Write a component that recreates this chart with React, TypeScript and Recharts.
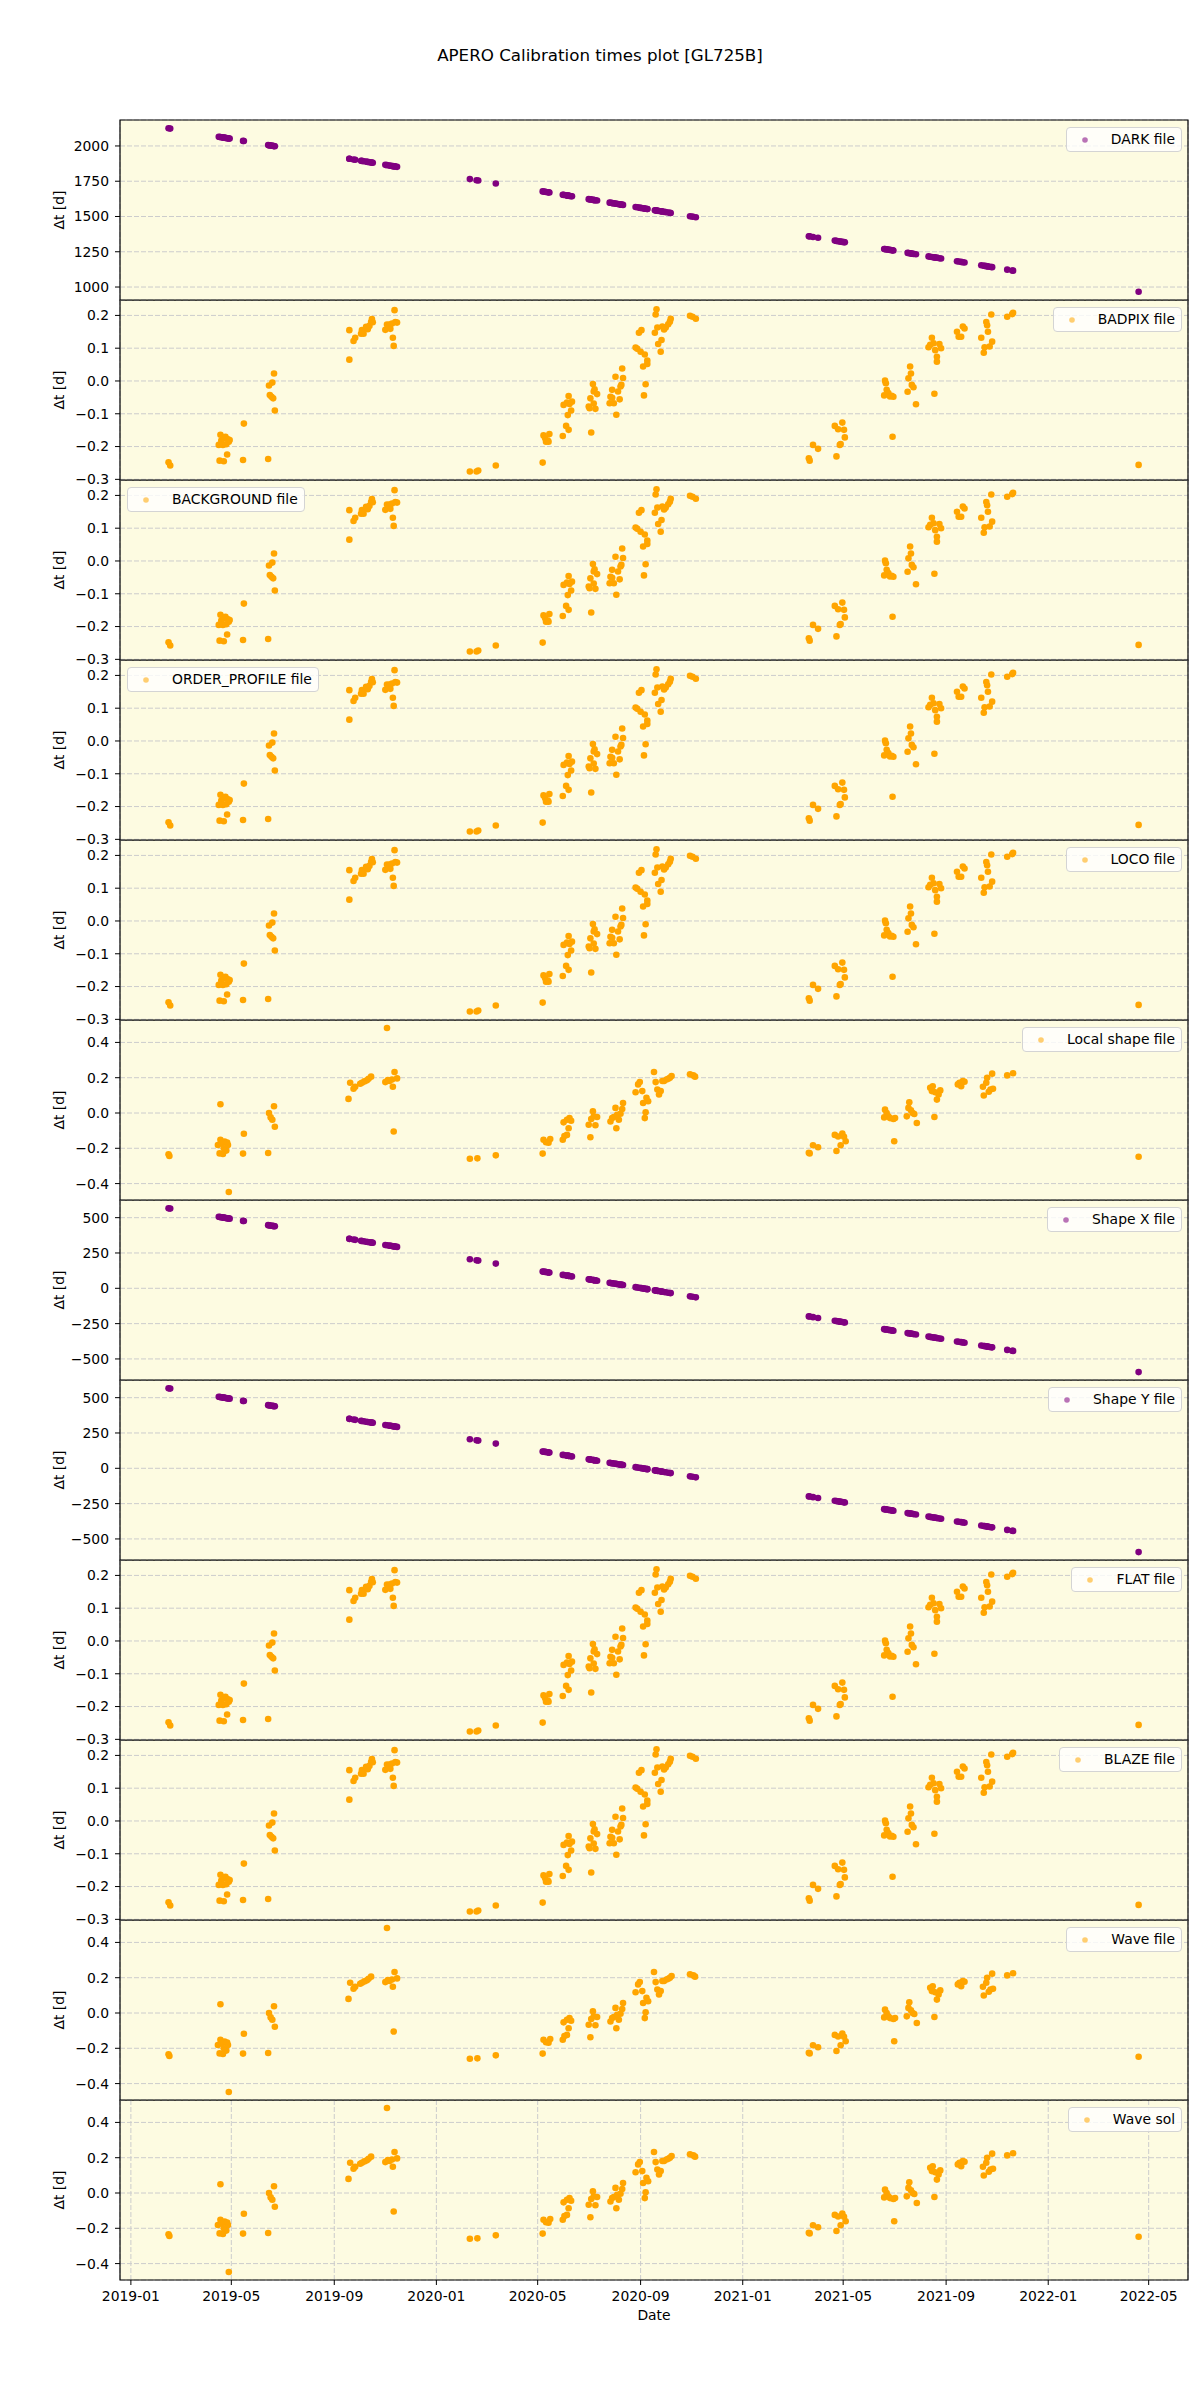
import { ScatterChart, Scatter, XAxis, YAxis, CartesianGrid, ReferenceArea, Legend } from "recharts"

const FONT = "DejaVu Sans"
const PURPLE = "#800080"
const ORANGE = "#ffa500"

// x ticks: month starts; x values are days since 2019-01-01
const dateTicks = ["2019-01", "2019-05", "2019-09", "2020-01", "2020-05", "2020-09", "2021-01", "2021-05", "2021-09", "2022-01", "2022-05"]
const xDomain = [-13, 1263]

const darkTicks = [1000, 1250, 1500, 1750, 2000]
const nightlyTicks = [-0.3, -0.2, -0.1, 0.0, 0.1, 0.2]
const waveTicks = [-0.4, -0.2, 0.0, 0.2, 0.4]
const shapeTicks = [-500, -250, 0, 250, 500]

// observation days for the nightly calibrations (DARK, BADPIX, ... , Shape)
const nightlyDays = [
  45, 47,
  105, 106, 107, 108, 110, 111, 111, 113, 114, 115, 116, 117, 118,
  134, 135,
  164, 165, 166, 168, 169, 170, 171, 172,
  261, 261, 266, 268, 275, 276, 278, 281, 283, 285, 287, 288, 289,
  304, 306, 309, 310, 312, 313, 314, 315, 316, 318,
  405, 413, 415, 436,
  492, 493, 495, 496, 498, 499, 500,
  516, 517, 520, 521, 522, 523, 523, 524, 526, 527,
  547, 548, 549, 550, 552, 553, 553, 554, 555, 557,
  572, 573, 575, 575, 577, 579, 580, 582, 584, 585, 586, 587, 588,
  603, 605, 607, 609, 610, 612, 613, 614, 615, 617, 617, 626, 627, 628, 629, 630, 633, 634, 635, 637, 639, 642, 644, 645,
  668, 671, 675,
  810, 811, 815, 821,
  841, 843, 845, 847, 848, 850, 852, 853,
  900, 901, 902, 903, 905, 907, 909, 910, 911,
  928, 929, 931, 932, 933, 935, 938,
  953, 955, 957, 959, 960, 961, 963, 963, 966, 968,
  987, 989, 992, 994, 996,
  1016, 1019, 1020, 1022, 1023, 1024, 1026, 1028, 1029,
  1047, 1053, 1054,
  1204,
]

const nightlyDt = [
  -0.248, -0.258,
  -0.195, -0.243, -0.164, -0.182, -0.195, -0.245, -0.175, -0.17, -0.193, -0.224, -0.178, -0.185, -0.18,
  -0.241, -0.13,
  -0.238, -0.014, -0.043, -0.048, -0.005, -0.053, 0.023, -0.09,
  0.065, 0.155, 0.122, 0.132, 0.144, 0.155, 0.144, 0.165, 0.158, 0.168, 0.18, 0.189, 0.179,
  0.156, 0.172, 0.172, 0.159, 0.175, 0.132, 0.107, 0.216, 0.18, 0.178,
  -0.276, -0.276, -0.273, -0.258,
  -0.249, -0.166, -0.175, -0.185, -0.182, -0.185, -0.162,
  -0.168, -0.073, -0.137, -0.066, -0.104, -0.149, -0.046, -0.07, -0.09, -0.063,
  -0.078, -0.083, -0.053, -0.157, -0.009, -0.032, -0.069, -0.025, -0.085, -0.04,
  -0.068, -0.048, -0.051, -0.027, -0.068, 0.013, -0.103, -0.032, -0.056, -0.017, -0.012, 0.038, 0.009,
  0.102, 0.098, 0.147, 0.089, 0.155, 0.044, -0.044, 0.081, -0.01, 0.062, 0.052, 0.147, 0.203, 0.219, 0.163, 0.113, 0.089, 0.125, 0.166, 0.157, 0.163, 0.173, 0.181, 0.19,
  0.199, 0.196, 0.19,
  -0.236, -0.243, -0.195, -0.207,
  -0.137, -0.23, -0.147, -0.195, -0.192, -0.127, -0.149, -0.172,
  -0.044, 0.001, -0.007, -0.027, -0.037, -0.047, -0.045, -0.17, -0.048,
  -0.033, 0.008, 0.044, 0.023, -0.012, -0.019, -0.071,
  0.103, 0.11, 0.132, 0.115, -0.039, 0.094, 0.074, 0.059, 0.113, 0.1,
  0.15, 0.135, 0.135, 0.166, 0.16,
  0.132, 0.086, 0.103, 0.18, 0.17, 0.15, 0.105, 0.203, 0.12,
  0.196, 0.204, 0.208,
  -0.256,
]

const darkDt = [
  2125, 2123,
  2065, 2064, 2063, 2062, 2060, 2059, 2059, 2057, 2056, 2055, 2054, 2053, 2052,
  2036, 2035,
  2006, 2005, 2004, 2002, 2001, 2000, 1999, 1998,
  1909, 1909, 1904, 1902, 1895, 1894, 1892, 1889, 1887, 1885, 1883, 1882, 1881,
  1866, 1864, 1861, 1860, 1858, 1857, 1856, 1855, 1854, 1852,
  1765, 1757, 1755, 1734,
  1678, 1677, 1675, 1674, 1672, 1671, 1670,
  1654, 1653, 1650, 1649, 1648, 1647, 1647, 1646, 1644, 1643,
  1623, 1622, 1621, 1620, 1618, 1617, 1617, 1616, 1615, 1613,
  1598, 1597, 1595, 1595, 1593, 1591, 1590, 1588, 1586, 1585, 1584, 1583, 1582,
  1567, 1565, 1563, 1561, 1560, 1558, 1557, 1556, 1555, 1553, 1553, 1544, 1543, 1542, 1541, 1540, 1537, 1536, 1535, 1533, 1531, 1528, 1526, 1525,
  1502, 1499, 1495,
  1360, 1359, 1355, 1349,
  1329, 1327, 1325, 1323, 1322, 1320, 1318, 1317,
  1270, 1269, 1268, 1267, 1265, 1263, 1261, 1260, 1259,
  1242, 1241, 1239, 1238, 1237, 1235, 1232,
  1217, 1215, 1213, 1211, 1210, 1209, 1207, 1207, 1204, 1202,
  1183, 1181, 1178, 1176, 1174,
  1154, 1151, 1150, 1148, 1147, 1146, 1144, 1142, 1141,
  1123, 1117, 1116,
  966,
]

const shapeDt = [
  566, 564,
  506, 505, 504, 503, 501, 500, 500, 498, 497, 496, 495, 494, 493,
  477, 476,
  447, 446, 445, 443, 442, 441, 440, 439,
  350, 350, 345, 343, 336, 335, 333, 330, 328, 326, 324, 323, 322,
  307, 305, 302, 301, 299, 298, 297, 296, 295, 293,
  206, 198, 196, 175,
  119, 118, 116, 115, 113, 112, 111,
  95, 94, 91, 90, 89, 88, 88, 87, 85, 84,
  64, 63, 62, 61, 59, 58, 58, 57, 56, 54,
  39, 38, 36, 36, 34, 32, 31, 29, 27, 26, 25, 24, 23,
  8, 6, 4, 2, 1, -1, -2, -3, -4, -6, -6, -15, -16, -17, -18, -19, -22, -23, -24, -26, -28, -31, -33, -34,
  -57, -60, -64,
  -199, -200, -204, -210,
  -230, -232, -234, -236, -237, -239, -241, -242,
  -289, -290, -291, -292, -294, -296, -298, -299, -300,
  -317, -318, -320, -321, -322, -324, -327,
  -342, -344, -346, -348, -349, -350, -352, -352, -355, -357,
  -376, -378, -381, -383, -385,
  -405, -408, -409, -411, -412, -413, -415, -417, -418,
  -436, -442, -443,
  -593,
]

// wavelength-type calibrations (Local shape, Wave file, Wave sol)
const waveDays = [
  45, 46,
  104, 106, 107, 107, 109, 110, 111, 112, 114, 115, 116, 117,
  134, 135,
  164, 165, 167, 169, 171, 172,
  260, 262, 266, 268, 274, 276, 279, 282, 284, 287,
  304, 306, 307, 309, 312, 313, 314, 315, 318,
  405, 414, 436,
  492, 493, 496, 499, 501,
  516, 517, 518, 521, 521, 523, 524, 526,
  547, 549, 550, 552, 553, 555, 557,
  573, 575, 577, 579, 580, 581, 583, 585, 587, 588,
  603, 606, 608, 611, 612, 614, 615, 616, 618, 625, 627, 629, 631, 633, 635, 637, 640, 642, 644, 646,
  668, 672, 674,
  810, 811, 815, 821,
  841, 843, 845, 848, 850, 852, 854,
  900, 901, 903, 905, 907, 911, 912, 913,
  927, 929, 930, 932, 934, 936, 939,
  955, 957, 958, 960, 961, 963, 965, 967,
  988, 990, 992, 994, 996,
  1018, 1019, 1022, 1023, 1025, 1027, 1029, 1030,
  1047, 1054,
  1204,
]

const waveDt = [
  -0.234, -0.244,
  -0.181, -0.229, 0.05, -0.152, -0.171, -0.232, -0.2, -0.162, -0.213, -0.168, -0.181, -0.448,
  -0.23, -0.118,
  -0.227, 0.0, -0.025, -0.038, 0.038, -0.078,
  0.08, 0.171, 0.137, 0.149, 0.166, 0.171, 0.179, 0.185, 0.194, 0.206,
  0.175, 0.482, 0.187, 0.181, 0.19, 0.149, -0.105, 0.232, 0.196,
  -0.259, -0.257, -0.24,
  -0.23, -0.152, -0.166, -0.168, -0.147,
  -0.152, -0.053, -0.13, -0.124, -0.038, -0.086, -0.029, -0.044,
  -0.067, -0.137, -0.034, 0.01, -0.019, -0.069, -0.023,
  -0.048, -0.029, -0.023, 0.029, -0.086, -0.01, -0.038, -0.004, 0.023, 0.057,
  0.118, 0.162, 0.175, 0.124, 0.057, -0.029, 0.004, 0.086, 0.067, 0.232, 0.175, 0.133, 0.105, 0.124, 0.181, 0.181, 0.19, 0.194, 0.2, 0.21,
  0.219, 0.213, 0.206,
  -0.225, -0.229, -0.183, -0.194,
  -0.124, -0.215, -0.133, -0.183, -0.116, -0.135, -0.16,
  -0.025, 0.019, 0.0, -0.019, -0.029, -0.034, -0.16, -0.029,
  -0.019, 0.029, 0.061, 0.015, 0.0, -0.006, -0.057,
  0.143, 0.124, 0.152, -0.023, 0.118, 0.076, 0.105, 0.128,
  0.162, 0.171, 0.152, 0.181, 0.177,
  0.149, 0.099, 0.171, 0.2, 0.12, 0.133, 0.223, 0.137,
  0.213, 0.225,
  -0.248,
]

const dayOf = (s: string) => {
  const [y, m] = s.split("-").map(Number)
  return (Date.UTC(y, m - 1, 1) - Date.UTC(2019, 0, 1)) / 86400000
}
const xTicks = dateTicks.map(dayOf)
const xLabel = (v: number) => dateTicks[xTicks.indexOf(v)] ?? ""
const fmt = (dec: number) => (v: number) => v.toFixed(dec).replace("-", "\u2212")

const NIGHTLY_DOMAIN = [-0.302, 0.247]
const WAVE_DOMAIN = [-0.493, 0.527]
const SHAPE_DOMAIN = [-649, 625]

const panels = [
  { name: "DARK file", color: PURPLE, days: nightlyDays, dt: darkDt, domain: [908, 2184], ticks: darkTicks, dec: 0, left: false },
  { name: "BADPIX file", color: ORANGE, days: nightlyDays, dt: nightlyDt, domain: NIGHTLY_DOMAIN, ticks: nightlyTicks, dec: 1, left: false },
  { name: "BACKGROUND file", color: ORANGE, days: nightlyDays, dt: nightlyDt, domain: NIGHTLY_DOMAIN, ticks: nightlyTicks, dec: 1, left: true },
  { name: "ORDER_PROFILE file", color: ORANGE, days: nightlyDays, dt: nightlyDt, domain: NIGHTLY_DOMAIN, ticks: nightlyTicks, dec: 1, left: true },
  { name: "LOCO file", color: ORANGE, days: nightlyDays, dt: nightlyDt, domain: NIGHTLY_DOMAIN, ticks: nightlyTicks, dec: 1, left: false },
  { name: "Local shape file", color: ORANGE, days: waveDays, dt: waveDt, domain: WAVE_DOMAIN, ticks: waveTicks, dec: 1, left: false },
  { name: "Shape X file", color: PURPLE, days: nightlyDays, dt: shapeDt, domain: SHAPE_DOMAIN, ticks: shapeTicks, dec: 0, left: false },
  { name: "Shape Y file", color: PURPLE, days: nightlyDays, dt: shapeDt, domain: SHAPE_DOMAIN, ticks: shapeTicks, dec: 0, left: false },
  { name: "FLAT file", color: ORANGE, days: nightlyDays, dt: nightlyDt, domain: NIGHTLY_DOMAIN, ticks: nightlyTicks, dec: 1, left: false },
  { name: "BLAZE file", color: ORANGE, days: nightlyDays, dt: nightlyDt, domain: NIGHTLY_DOMAIN, ticks: nightlyTicks, dec: 1, left: false },
  { name: "Wave file", color: ORANGE, days: waveDays, dt: waveDt, domain: WAVE_DOMAIN, ticks: waveTicks, dec: 1, left: false },
  { name: "Wave sol", color: ORANGE, days: waveDays, dt: waveDt, domain: WAVE_DOMAIN, ticks: waveTicks, dec: 1, left: false },
]

function LegendBox({ name, color }: { name: string; color: string }) {
  return (
    <div
      style={{
        position: "relative",
        height: 25,
        boxSizing: "border-box",
        padding: "0 6px 0 44px",
        lineHeight: "23px",
        background: "rgba(255,255,255,0.8)",
        border: "1px solid #d4d4d4",
        borderRadius: 4,
        fontSize: 13.9,
        color: "#000",
        whiteSpace: "nowrap",
        fontFamily: FONT,
      }}
    >
      <svg width={8} height={8} style={{ position: "absolute", left: 14, top: 8 }}>
        <circle cx={4} cy={4} r={2.8} fill={color} fillOpacity={0.55} />
      </svg>
      {name}
    </div>
  )
}

function Panel({ p, showX }: { p: (typeof panels)[number]; showX: boolean }) {
  const data = p.days.map((d, i) => ({ day: d, dt: p.dt[i] }))
  const color = p.color
  return (
    <ScatterChart width={1200} height={showX ? 240 : 180} margin={{ top: 0, right: 12, bottom: 0, left: 0 }}>
      <CartesianGrid fill="#fdfbe1" fillOpacity={1} stroke="#cccccc" strokeDasharray="5 2" />
      <XAxis
        type="number"
        dataKey="day"
        domain={xDomain}
        ticks={xTicks}
        interval={0}
        allowDataOverflow
        height={showX ? 60 : 0}
        axisLine={false}
        tick={showX ? { fill: "#000", fontSize: 13.9 } : false}
        tickLine={showX ? { stroke: "#000" } : false}
        tickSize={5}
        tickMargin={6}
        tickFormatter={xLabel}
        label={showX ? { value: "Date", position: "insideBottom", offset: 20, fill: "#000", fontSize: 13.9 } : undefined}
      />
      <YAxis
        type="number"
        dataKey="dt"
        domain={p.domain}
        ticks={p.ticks}
        interval={0}
        allowDataOverflow
        width={120}
        axisLine={false}
        tick={{ fill: "#000", fontSize: 13.9 }}
        tickLine={{ stroke: "#000" }}
        tickSize={5}
        tickMargin={6}
        tickFormatter={fmt(p.dec)}
        label={() => (
          <text x={64} y={90} transform="rotate(-90 64 90)" textAnchor="middle" fontSize={13.9} fill="#000">
            Δt [d]
          </text>
        )}
      />
      <ReferenceArea x1={xDomain[0]} x2={xDomain[1]} y1={p.domain[0]} y2={p.domain[1]} fill="none" stroke="#000" strokeWidth={1.2} ifOverflow="visible" />
      <Scatter
        data={data}
        fill={color}
        isAnimationActive={false}
        shape={(s: any) => <circle cx={s.cx} cy={s.cy} r={3.3} fill={color} />}
      />
      <Legend
        layout="vertical"
        align="center"
        verticalAlign="middle"
        wrapperStyle={p.left ? { top: 7, left: 127 } : { top: 7, right: 18 }}
        content={() => <LegendBox name={p.name} color={color} />}
      />
    </ScatterChart>
  )
}

export default function App() {
  return (
    <div style={{ position: "absolute", left: 0, top: 0, width: 1200, height: 2400, background: "#fff", fontFamily: FONT }}>
      <style>{`.recharts-surface, .recharts-wrapper { overflow: visible !important; }`}</style>
      <svg width={1200} height={100} style={{ position: "absolute", left: 0, top: 0 }}>
        <text x={600} y={61} textAnchor="middle" fontSize={16.7} fill="#000" fontFamily={FONT}>
          APERO Calibration times plot [GL725B]
        </text>
      </svg>
      {panels.map((p, i) => (
        <div key={p.name} style={{ position: "absolute", left: 0, top: 120 + i * 180, zIndex: panels.length - i }}>
          <Panel p={p} showX={i === panels.length - 1} />
        </div>
      ))}
    </div>
  )
}
